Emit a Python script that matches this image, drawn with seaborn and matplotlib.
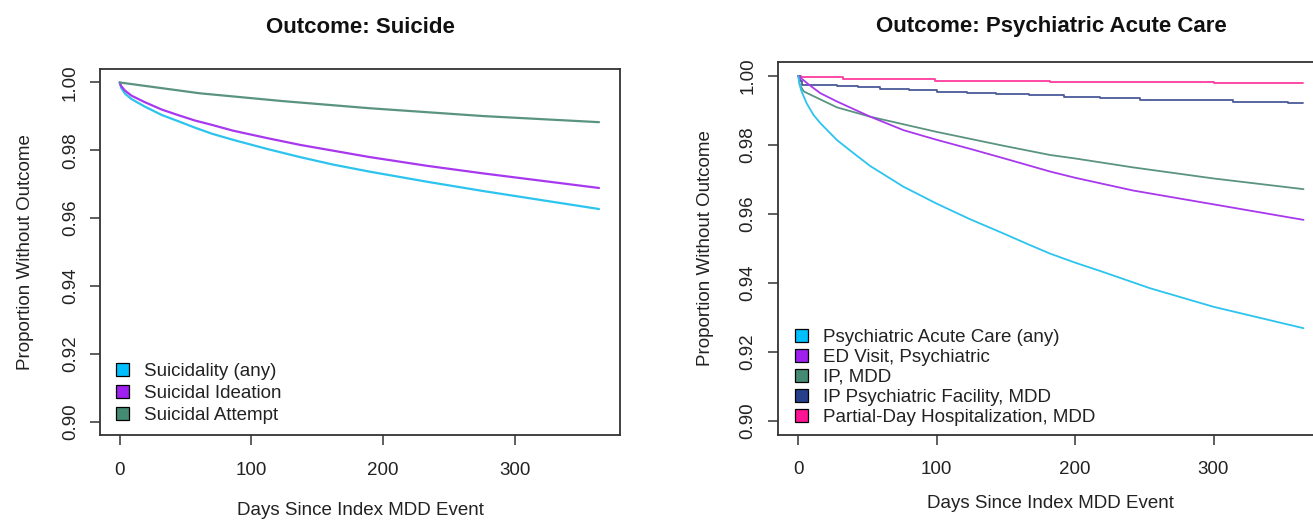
import matplotlib
matplotlib.use("Agg")
import matplotlib.pyplot as plt
from matplotlib.patches import Patch
import seaborn as sns
import pandas as pd

# ---------------- data: left panel (Outcome: Suicide) ----------------
days_suicide = [0, 1, 4, 9, 19, 32, 45, 57, 70, 86, 112, 137, 162, 190, 234, 276, 364]
suicidality_any = [1.0, 0.9985, 0.9967, 0.9951, 0.9929, 0.9904, 0.9885, 0.9867, 0.9849,
                   0.9831, 0.9804, 0.9780, 0.9758, 0.9737, 0.9707, 0.9680, 0.9627]
suicidal_ideation = [1.0, 0.9990, 0.9976, 0.9961, 0.9942, 0.9920, 0.9903, 0.9888, 0.9875,
                     0.9858, 0.9836, 0.9816, 0.9799, 0.9780, 0.9754, 0.9732, 0.9689]
days_attempt = [0, 61, 124, 190, 276, 364]
suicidal_attempt = [1.0, 0.9968, 0.9945, 0.9924, 0.9901, 0.9883]

# ---------------- data: right panel (Outcome: Psychiatric Acute Care) ----------------
days_acute = [0, 1, 2, 6, 11, 16, 28, 40, 52, 76, 100, 124, 148, 165, 182, 200, 218,
              254, 300, 365]
acute_any = [1.0, 0.9975, 0.9959, 0.9921, 0.9887, 0.9863, 0.9814, 0.9776, 0.9739,
             0.9679, 0.9630, 0.9585, 0.9544, 0.9514, 0.9485, 0.9459, 0.9435, 0.9385,
             0.9331, 0.9269]
days_ed = [0, 8, 16, 28, 52, 76, 100, 124, 148, 182, 200, 242, 300, 365]
ed_visit = [1.0, 0.9974, 0.9950, 0.9926, 0.9882, 0.9843, 0.9815, 0.9789, 0.9762,
            0.9723, 0.9705, 0.9668, 0.9628, 0.9583]
days_ip = [0, 1, 4, 16, 28, 52, 76, 100, 124, 148, 182, 200, 242, 300, 365]
ip_mdd = [1.0, 0.9975, 0.9955, 0.9932, 0.9909, 0.9882, 0.9860, 0.9838, 0.9818,
          0.9798, 0.9771, 0.9761, 0.9735, 0.9703, 0.9672]
days_facility = [0, 1, 3, 28, 43, 59, 80, 100, 122, 143, 167, 192, 218, 247, 279, 314, 354, 365]
ip_facility = [1.0, 0.9985, 0.9974, 0.9971, 0.9967, 0.9961, 0.9958, 0.9953, 0.9950,
               0.9947, 0.9944, 0.9940, 0.9935, 0.9931, 0.9929, 0.9925, 0.9922, 0.9922]
days_partial = [0, 2, 32, 99, 182, 300, 365]
partial_day = [1.0, 0.9996, 0.9990, 0.9986, 0.9982, 0.9979, 0.9979]

left_labels = ["Suicidality (any)", "Suicidal Ideation", "Suicidal Attempt"]
right_labels = ["Psychiatric Acute Care (any)", "ED Visit, Psychiatric", "IP, MDD",
                "IP Psychiatric Facility, MDD", "Partial-Day Hospitalization, MDD"]
x_ticks = [0, 100, 200, 300]
y_ticks = [0.90, 0.92, 0.94, 0.96, 0.98, 1.00]

c_cyan, c_purple, c_green, c_navy, c_pink = "#00BFFF", "#A020F0", "#458B74", "#27408B", "#FF1493"
line_cyan, line_purple, line_green, line_navy, line_pink = "#2CC4EE", "#A838EE", "#5A947F", "#4A5A98", "#FF3C9E"

sns.set_theme(style="white")
plt.rcParams["font.family"] = ["Liberation Sans", "DejaVu Sans"]
plt.rcParams["axes.edgecolor"] = "#333333"
plt.rcParams["axes.linewidth"] = 1.3

FS = 13.5
fig = plt.figure(figsize=(13.13, 5.21), dpi=100)
W, H = 1313, 521
ax1 = fig.add_axes([100.5 / W, (H - 435.3) / H, 519 / W, 366.4 / H])
ax2 = fig.add_axes([778.1 / W, (H - 434.8) / H, 545.6 / W, 372.6 / H])


def draw(ax, days, vals, color, lw, steps=False):
    df = pd.DataFrame({"day": days, "p": vals})
    kw = {"drawstyle": "steps-post"} if steps else {}
    sns.lineplot(data=df, x="day", y="p", ax=ax, color=color, linewidth=lw,
                 legend=False, estimator=None, **kw)


draw(ax1, days_suicide, suicidality_any, line_cyan, 1.6)
draw(ax1, days_suicide, suicidal_ideation, line_purple, 1.6)
draw(ax1, days_attempt, suicidal_attempt, line_green, 1.6)

draw(ax2, days_partial, partial_day, line_pink, 1.3, steps=True)
draw(ax2, days_facility, ip_facility, line_navy, 1.3, steps=True)
draw(ax2, days_ip, ip_mdd, line_green, 1.3)
draw(ax2, days_ed, ed_visit, line_purple, 1.3)
draw(ax2, days_acute, acute_any, line_cyan, 1.3)

for ax, title, tpad, xpad, ypad in [(ax1, "Outcome: Suicide", 25.5, 17, 20),
                                    (ax2, "Outcome: Psychiatric Acute Care", 22, 12, 18.5)]:
    ax.set_xlim(-14.6, 379.6)
    ax.set_ylim(0.896, 1.004)
    ax.set_xticks(x_ticks)
    ax.set_xticklabels([str(t) for t in x_ticks])
    ax.set_yticks(y_ticks)
    ax.set_yticklabels([f"{t:.2f}" for t in y_ticks])
    ax.tick_params(axis="both", direction="out", length=7, width=1.1,
                   color="#333333", labelsize=FS, labelcolor="#222222",
                   bottom=True, left=True)
    ax.tick_params(axis="x", pad=12)
    ax.tick_params(axis="y", pad=8.5)
    for lab in ax.get_yticklabels():
        lab.set_rotation(90)
        lab.set_va("center")
        lab.set_ha("right")
    ax.set_title(title, fontsize=16, fontweight="bold", pad=tpad, color="#111111")
    ax.set_xlabel("Days Since Index MDD Event", fontsize=FS, labelpad=xpad, color="#222222")
    ax.set_ylabel("Proportion Without Outcome", fontsize=FS, labelpad=ypad, color="#222222")
    for s in ax.spines.values():
        s.set_visible(True)

h1 = [Patch(facecolor=c, edgecolor="black", linewidth=0.9) for c in [c_cyan, c_purple, c_green]]
ax1.legend(h1, left_labels, loc="lower left", bbox_to_anchor=(0.030, 0.030),
           frameon=False, fontsize=FS, handlelength=0.7, handleheight=0.7,
           handletextpad=0.8, labelspacing=0.27, borderaxespad=0, borderpad=0,
           labelcolor="#222222")

h2 = [Patch(facecolor=c, edgecolor="black", linewidth=0.9)
      for c in [c_cyan, c_purple, c_green, c_navy, c_pink]]
ax2.legend(h2, right_labels, loc="lower left", bbox_to_anchor=(0.031, 0.024),
           frameon=False, fontsize=FS, handlelength=0.7, handleheight=0.7,
           handletextpad=0.8, labelspacing=0.15, borderaxespad=0, borderpad=0,
           labelcolor="#222222")

fig.savefig("out.png", dpi=100)
